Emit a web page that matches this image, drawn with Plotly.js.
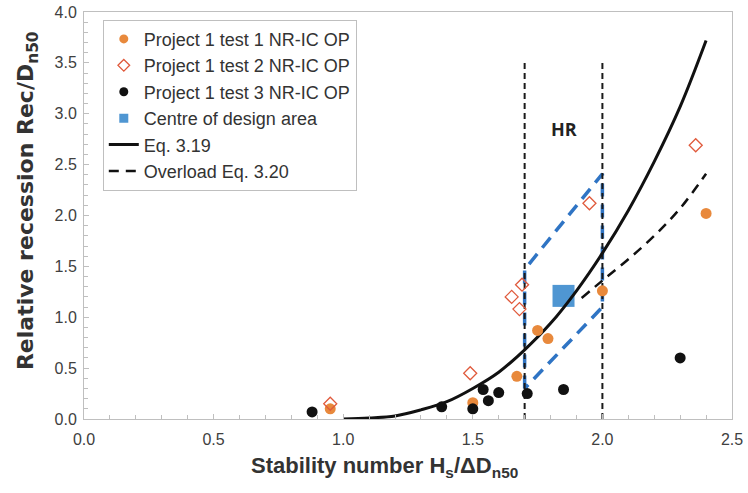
<!DOCTYPE html>
<html>
<head>
<meta charset="utf-8">
<script src="https://cdn.plot.ly/plotly-3.0.1.min.js"></script>
<style>html,body{margin:0;padding:0;background:#fff;}#chart{width:748px;height:493px;}</style>
</head>
<body>
<div id="chart"></div>
<script>
// ---- data ----
const test1X = [0.95, 1.50, 1.67, 1.75, 1.79, 2.00, 2.40];
const test1Y = [0.10, 0.16, 0.42, 0.87, 0.79, 1.26, 2.02];

const test2X = [0.95, 1.49, 1.65, 1.68, 1.69, 1.95, 2.36];
const test2Y = [0.15, 0.45, 1.20, 1.08, 1.32, 2.12, 2.69];

const test3X = [0.88, 1.38, 1.50, 1.54, 1.56, 1.60, 1.71, 1.85, 2.30];
const test3Y = [0.07, 0.12, 0.10, 0.29, 0.18, 0.26, 0.25, 0.29, 0.60];

const centreX = [1.85];
const centreY = [1.21];

const eq319X = [1.0, 1.1, 1.2, 1.3, 1.4, 1.5, 1.6, 1.7, 1.8, 1.9, 2.0, 2.1, 2.2, 2.3, 2.4];
const eq319Y = [0.0, 0.01, 0.03, 0.09, 0.17, 0.30, 0.46, 0.68, 0.94, 1.26, 1.63, 2.05, 2.53, 3.07, 3.72];

const overloadX = [1.92, 2.0, 2.1, 2.2, 2.3, 2.4];
const overloadY = [1.19, 1.36, 1.57, 1.80, 2.07, 2.41];

const hrBounds = [1.7, 2.0];
const hrRange = [0.0, 3.5];
const hrLabel = "HR";
const hrLabelPos = [1.85, 2.85];

const designAreaX = [1.7, 1.7, 2.0, 2.0, 1.7];
const designAreaY = [0.30, 1.47, 2.41, 1.10, 0.30];

const names = ["Project 1 test 1 NR-IC OP", "Project 1 test 2 NR-IC OP", "Project 1 test 3 NR-IC OP",
               "Centre of design area", "Eq. 3.19", "Overload Eq. 3.20"];

const xTitle = "Stability number H<sub>s</sub>/ΔD<sub>n50</sub>";
const yTitle = "Relative recession Rec/D<sub>n50</sub>";

// ---- styles ----
const FONT = "Liberation Sans, Arial, sans-serif";
const ORANGE = "#e8893c", RED = "#e05a3c", BLACK = "#111", SQBLUE = "#4f96d2";

const traces = [];

traces.push({x: designAreaX, y: designAreaY, mode: "lines", showlegend: false, hoverinfo: "skip",
  line: {color: "#2f74c4", width: 3.5, dash: "13px,8px"}});

hrBounds.forEach(b => traces.push({x: [b, b], y: hrRange, mode: "lines", showlegend: false, hoverinfo: "skip",
  line: {color: "#1a1a1a", width: 2, dash: "6px,4px"}}));

traces.push({x: centreX, y: centreY, mode: "markers", showlegend: false,
  marker: {symbol: "square", size: 22, color: SQBLUE}});

traces.push({x: eq319X, y: eq319Y, mode: "lines", name: names[4], legendrank: 5,
  line: {color: BLACK, width: 3, shape: "spline"}});

traces.push({x: overloadX, y: overloadY, mode: "lines", name: names[5], legendrank: 6,
  line: {color: BLACK, width: 2.5, dash: "10px,7px", shape: "spline"}});

traces.push({x: test1X, y: test1Y, mode: "markers", showlegend: false,
  marker: {symbol: "circle", size: 11, color: ORANGE}});

traces.push({x: test2X, y: test2Y, mode: "markers", showlegend: false,
  marker: {symbol: "diamond-open", size: 10, color: RED, line: {width: 1.3}}});

traces.push({x: test3X, y: test3Y, mode: "markers", showlegend: false,
  marker: {symbol: "circle", size: 11, color: BLACK}});

// legend entries for the marker series (smaller symbols, as in the reference legend)
const legendMarkers = [
  {name: names[0], rank: 1, marker: {symbol: "circle", size: 9, color: ORANGE}},
  {name: names[1], rank: 2, marker: {symbol: "diamond-open", size: 9, color: RED, line: {width: 1.3}}},
  {name: names[2], rank: 3, marker: {symbol: "circle", size: 9, color: BLACK}},
  {name: names[3], rank: 4, marker: {symbol: "square", size: 9, color: SQBLUE}}
];
legendMarkers.forEach(m => traces.push({x: [null], y: [null], mode: "markers", name: m.name,
  legendrank: m.rank, marker: m.marker, hoverinfo: "skip"}));

const axisCommon = {
  showgrid: false, zeroline: false, showline: true, linecolor: "#bfbfbf", linewidth: 1, mirror: true,
  ticks: "inside", ticklen: 5, tickcolor: "#bfbfbf", tickformat: ".1f",
  minor: {ticks: "inside", ticklen: 4, tickcolor: "#bfbfbf", showgrid: false},
  tickfont: {family: FONT, size: 16, color: "#404040"}
};

const layout = {
  width: 748, height: 493,
  margin: {l: 84, r: 16, t: 12, b: 74},
  paper_bgcolor: "#fff", plot_bgcolor: "#fff",
  font: {family: FONT, color: "#333"},
  showlegend: true,
  xaxis: Object.assign({}, axisCommon, {
    range: [0, 2.5], dtick: 0.5, tick0: 0, ticklabelstandoff: 6,
    minor: Object.assign({}, axisCommon.minor, {dtick: 0.1})
  }),
  yaxis: Object.assign({}, axisCommon, {
    range: [0, 4], dtick: 0.5, tick0: 0, ticklabelstandoff: 3,
    minor: Object.assign({}, axisCommon.minor, {dtick: 0.1})
  }),
  legend: {
    x: 0.029, y: 0.981, xanchor: "left", yanchor: "top",
    bgcolor: "#fff", bordercolor: "#bfbfbf", borderwidth: 1,
    font: {family: FONT, size: 18, color: "#333"},
    traceorder: "normal"
  },
  annotations: [
    {x: hrLabelPos[0], y: hrLabelPos[1], xref: "x", yref: "y", text: "<b>" + hrLabel + "</b>",
     showarrow: false, font: {family: "Open Sans, sans-serif", size: 18, color: "#222"}},
    {x: 0.463, y: -0.117, xref: "paper", yref: "paper", xanchor: "center", yanchor: "middle",
     text: "<b>" + xTitle + "</b>", showarrow: false,
     font: {family: FONT, size: 22, color: "#333"}},
    {x: -0.086, y: 0.536, xref: "paper", yref: "paper", xanchor: "center", yanchor: "middle",
     text: "<b>" + yTitle + "</b>", textangle: -90, showarrow: false,
     font: {family: "DejaVu Sans, sans-serif", size: 22, color: "#333"}}
  ]
};

Plotly.newPlot("chart", traces, layout, {displayModeBar: false, staticPlot: true});
</script>
</body>
</html>
